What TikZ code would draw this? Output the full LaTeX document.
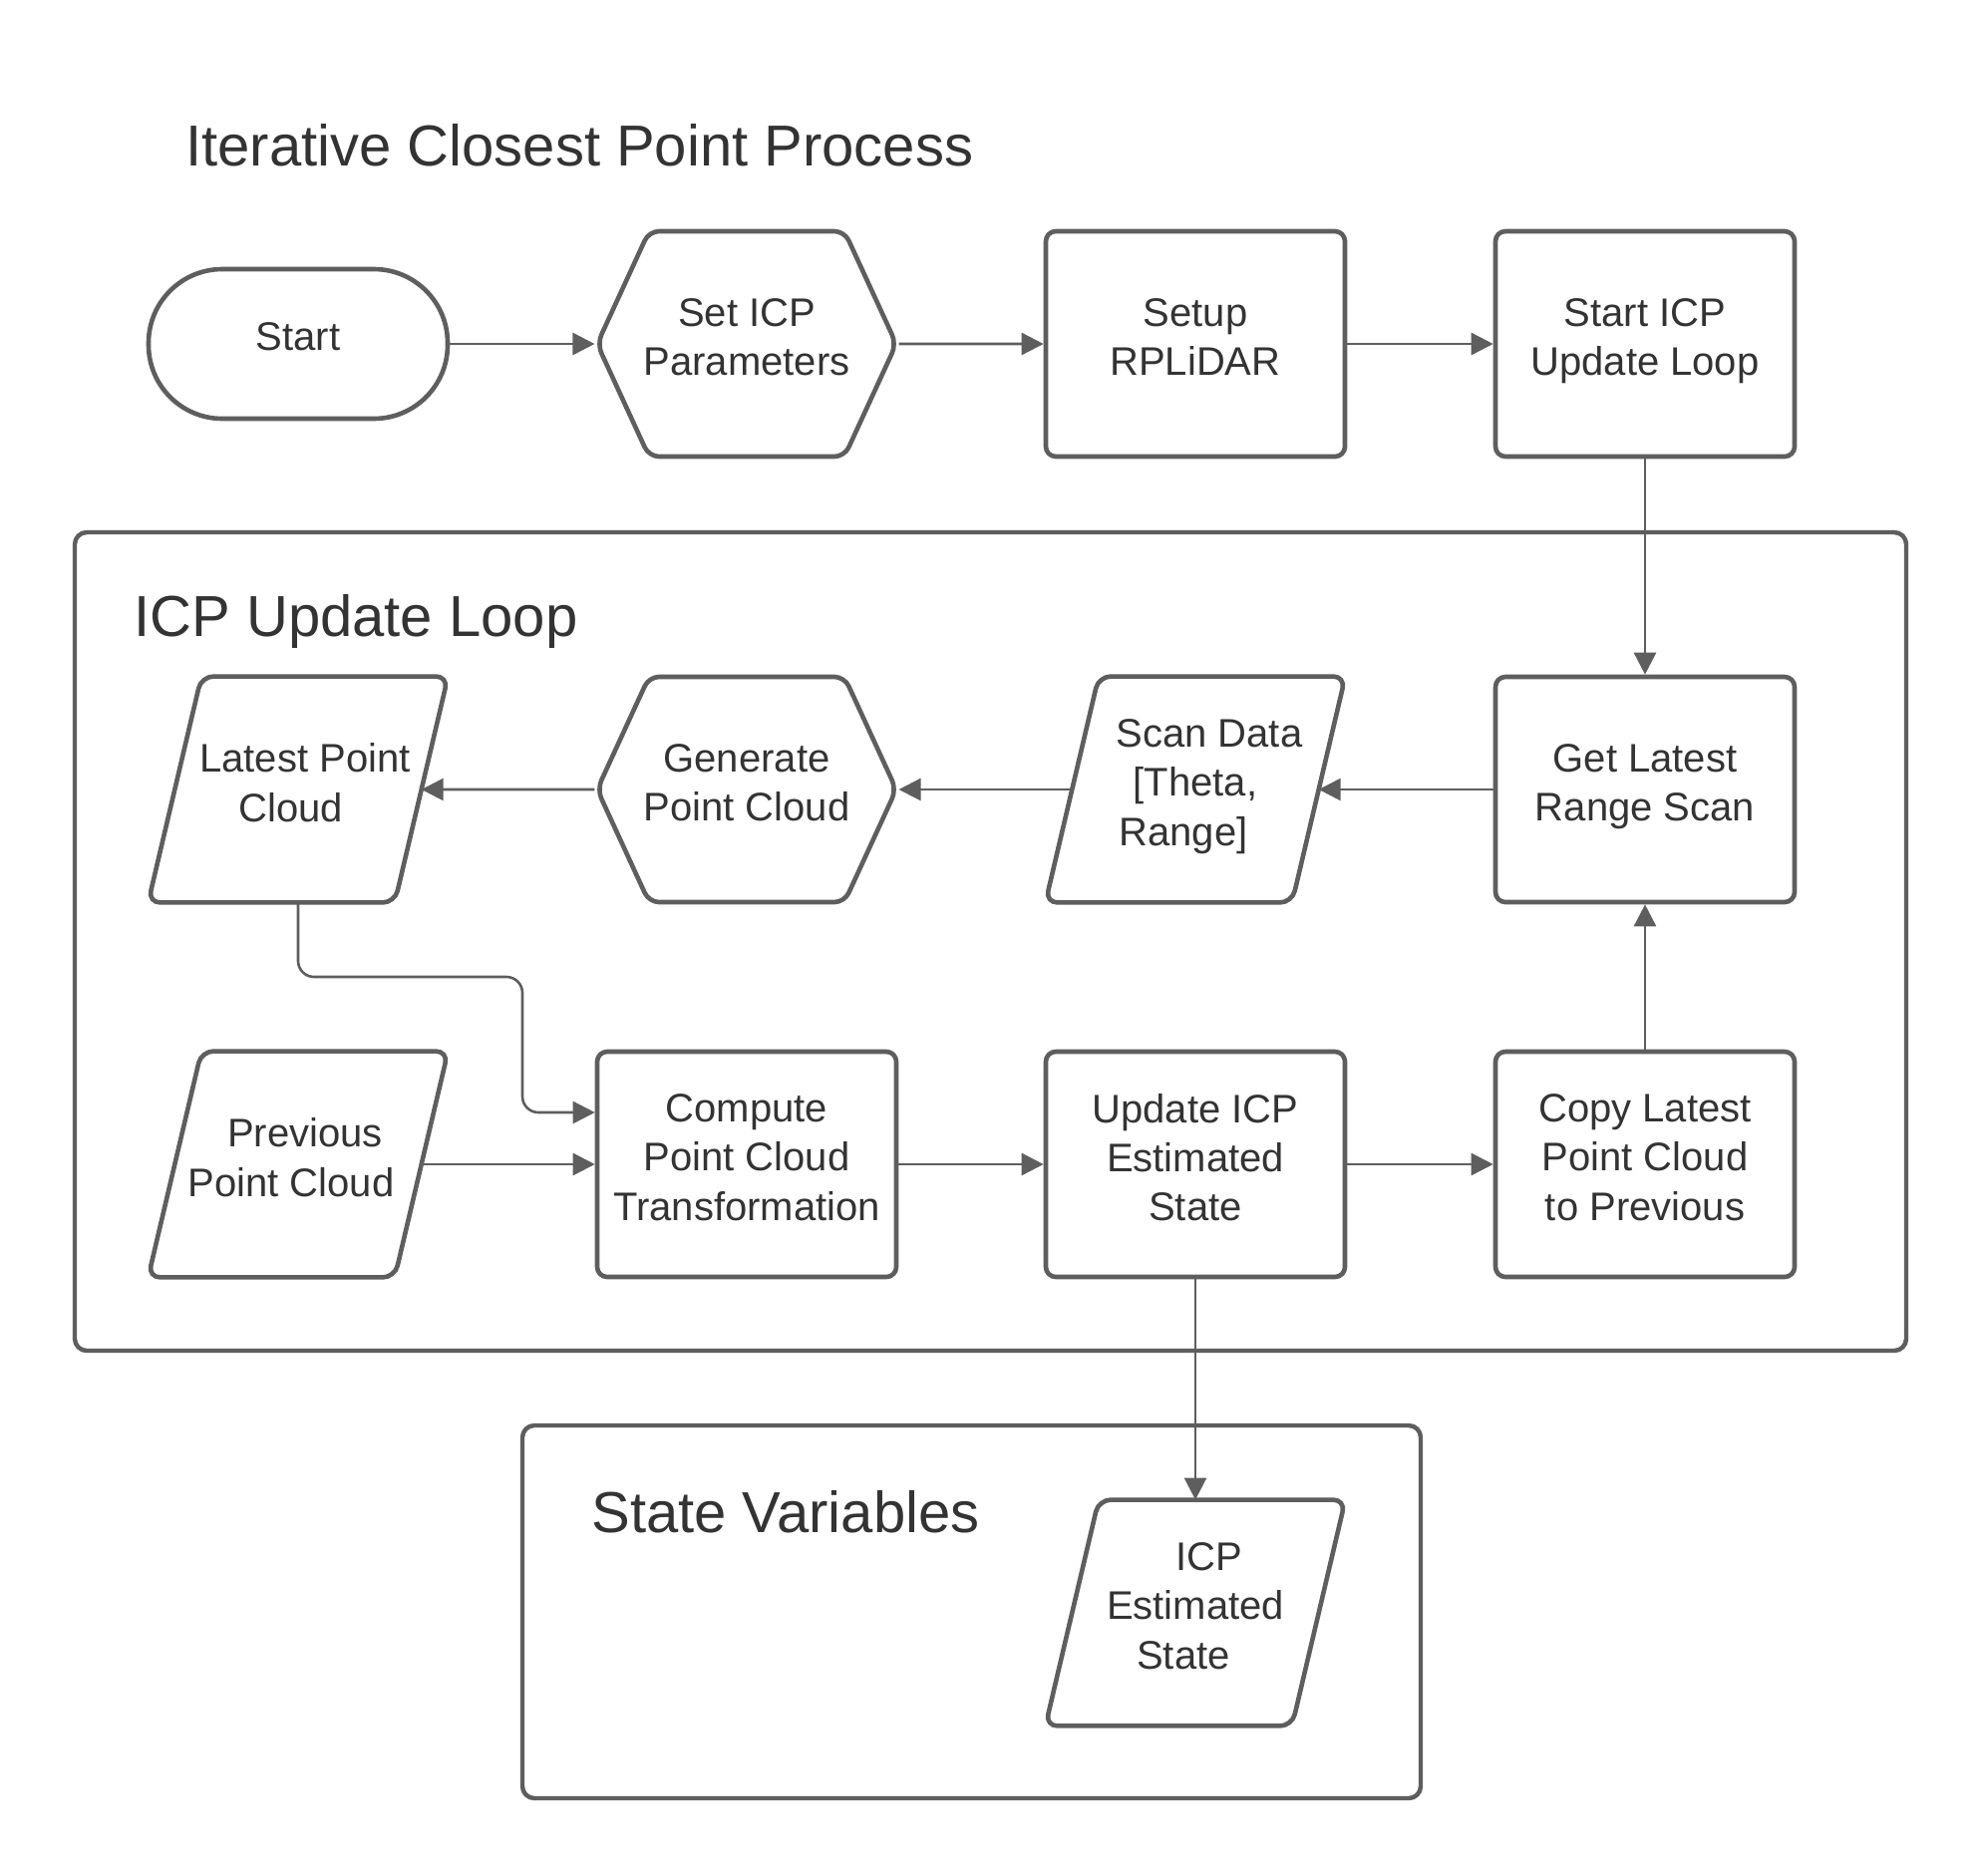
\documentclass[tikz,border=0pt]{standalone}
\usepackage{fontspec}
\setmainfont{Liberation Sans}
\usetikzlibrary{arrows.meta}
\usetikzlibrary{shapes.symbols}
\definecolor{lineGray}{HTML}{5E5E5E}
\definecolor{textGray}{HTML}{333333}

\begin{document}
\begin{tikzpicture}[x = 0.5pt, y = -0.5pt, font=\fontsize{20}{24.7}\selectfont, text = textGray]
\tikzstyle{boxStyle}=[draw = lineGray, line width = 2.3pt, rounded corners = 5pt, minimum width = 150pt, minimum height = 113pt, align = center, inner sep = 2pt, text depth = 7pt]
\tikzstyle{termStyle}=[boxStyle, minimum height = 75pt, rounded corners = 37pt]
\tikzstyle{hexStyle}=[boxStyle, signal, signal to = west and east, signal pointer angle = 130.6, inner xsep = -3.5pt]
\tikzstyle{dataStyle}=[minimum width = 123.3pt, minimum height = 113pt, align = center, inner sep = 2pt, text depth = 7pt,
  append after command = {\pgfextra{\draw[draw = lineGray, line width = 2.3pt, rounded corners = 6pt]
  ([xshift = -13.35pt]\tikzlastnode.south west) -- ([xshift = -13.35pt]\tikzlastnode.south east)
  -- ([xshift = 13.35pt]\tikzlastnode.north east) -- ([xshift = 13.35pt]\tikzlastnode.north west) -- cycle;}}]
\tikzstyle{flowStyle}=[draw = lineGray, line width = 1.3pt, -{Triangle[length = 11pt, width = 11pt]}]
\tikzstyle{frameStyle}=[draw = lineGray, line width = 2.2pt, rounded corners = 6pt]
\tikzstyle{headStyle}=[anchor = base west, inner sep = 0pt, font=\fontsize{29}{35}\selectfont]
\useasboundingbox (0, 0) rectangle (1988, 1881);
% frames
\draw[frameStyle] (75, 534) rectangle (1912, 1355);
\draw[frameStyle] (524, 1430) rectangle (1425, 1804);
\node[headStyle] (title) at (186, 166) {Iterative Closest Point Process};
\node[headStyle] (loopHead) at (134, 638) {ICP Update Loop};
\node[headStyle] (stateHead) at (593, 1537) {State Variables};
% top row
\node[termStyle] (start) at (299, 345) {Start};
\node[hexStyle] (setp) at (749, 345) {Set ICP\\Parameters};
\node[boxStyle] (setup) at (1199, 345) {Setup\\RPLiDAR};
\node[boxStyle] (sloop) at (1650, 345) {Start ICP\\Update Loop};
% loop
\node[dataStyle] (lpc) at (299, 792) {\hspace*{7pt}Latest Point\\Cloud\hspace*{7pt}};
\node[hexStyle] (gen) at (749, 792) {Generate\\Point Cloud};
\node[dataStyle] (scan) at (1199, 792) {\hspace*{14pt}Scan Data\\{[Theta,}\\Range]\hspace*{12pt}};
\node[boxStyle] (gls) at (1650, 792) {Get Latest\\Range Scan};
\node[dataStyle] (ppc) at (299, 1168) {\hspace*{7pt}Previous\\Point Cloud\hspace*{7pt}};
\node[boxStyle] (cpt) at (749, 1168) {Compute\\Point Cloud\\Transformation};
\node[boxStyle] (upd) at (1199, 1168) {Update ICP\\Estimated\\State};
\node[boxStyle] (copy) at (1650, 1168) {Copy Latest\\Point Cloud\\to Previous};
\coordinate (bend) at (524, 980);
% state variables
\node[dataStyle] (est) at (1199, 1618) {\hspace*{14pt}ICP\\Estimated\\State\hspace*{12pt}};
\draw[flowStyle] (start) -- (setp);
\draw[flowStyle] (setp) -- (setup);
\draw[flowStyle] (setup) -- (sloop);
\draw[flowStyle] (sloop) -- (gls);
\draw[flowStyle] (gls) -- (scan);
\draw[flowStyle] (scan) -- (gen);
\draw[flowStyle] (gen) -- (lpc);
\draw[flowStyle, rounded corners = 8pt] (lpc.south) |- (bend) |- ([yshift = 26pt]cpt.west);
\draw[flowStyle] (ppc) -- (cpt);
\draw[flowStyle] (cpt) -- (upd);
\draw[flowStyle] (upd) -- (copy);
\draw[flowStyle] (copy) -- (gls);
\draw[flowStyle] (upd) -- (est);
\end{tikzpicture}
\end{document}
